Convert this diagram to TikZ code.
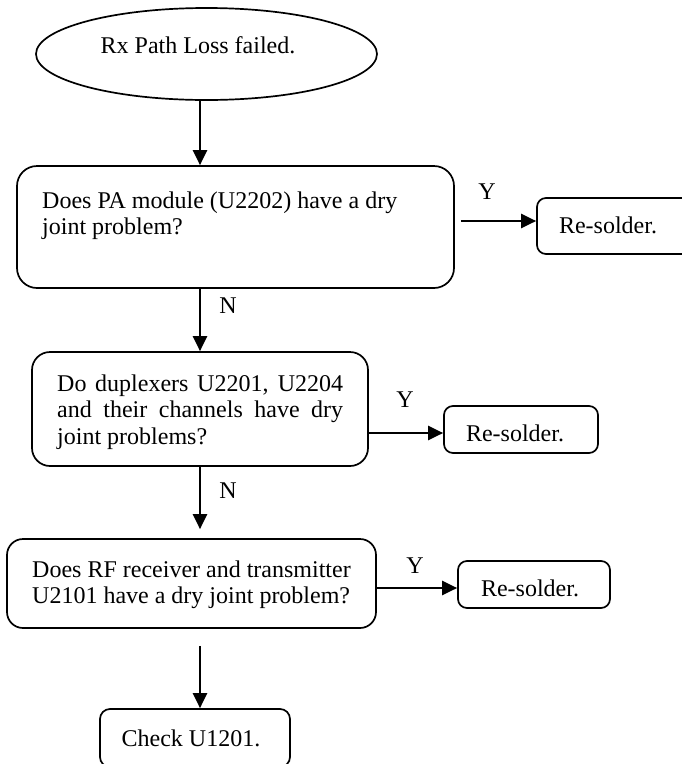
\documentclass[tikz,border=0pt]{standalone}
\usepackage{fontspec}
\setmainfont{Liberation Serif}
\usetikzlibrary{shapes.geometric,arrows.meta}

\tikzset{
  every node/.style={font=\fontsize{24}{26.5}\selectfont},
  box/.style={draw, line width=1.7pt, inner sep=0pt},
  txt/.style={inner sep=0pt, anchor=base west},
  ctxt/.style={inner sep=0pt, anchor=base},
  flow/.style={line width=2.2pt, -{Triangle[length=15pt,width=14pt]}},
}

\begin{document}
\begin{tikzpicture}[x=1pt,y=-1pt]
  \useasboundingbox (0,0) rectangle (682,764);

  % guide lines for the main column and the "yes" branches
  \coordinate (spine) at (200,0);
  \coordinate (y1) at (0,221);
  \coordinate (y2) at (0,433);
  \coordinate (y3) at (0,588);

  % start
  \node[box, ellipse, minimum width=341, minimum height=92] (start) at (206.5,54) {};
  \node[ctxt] (starttext) at (198,53) {Rx Path Loss failed.};

  % decisions
  \node[box, rounded corners=20pt, minimum width=437, minimum height=122] (q1) at (235.5,227) {};
  \node[txt] (q1text) at (42,208) {\parbox[t]{380pt}{\raggedright
    Does PA module (U2202) have a dry\\joint problem?}};

  \node[box, rounded corners=18pt, minimum width=336, minimum height=114] (q2) at (200,409) {};
  \node[txt] (q2text) at (57,391) {\parbox[t]{286pt}{\raggedright
    \makebox[286pt][s]{Do duplexers U2201, U2204}\\
    \makebox[286pt][s]{and their channels have dry}\\
    joint problems?}};

  \node[box, rounded corners=16pt, minimum width=369, minimum height=89] (q3) at (191.5,583.5) {};
  \node[txt] (q3text) at (32,577) {\parbox[t]{340pt}{\raggedright
    Does RF receiver and transmitter\\U2101 have a dry joint problem?}};

  % actions
  \node[box, rounded corners=9pt, minimum width=154, minimum height=56] (r1) at (614,226) {};
  \node[ctxt] (r1text) at (608,233) {Re-solder.};

  \node[box, rounded corners=9pt, minimum width=154, minimum height=47] (r2) at (521,429.5) {};
  \node[ctxt] (r2text) at (515,441) {Re-solder.};

  \node[box, rounded corners=9pt, minimum width=152, minimum height=47] (r3) at (534,584.5) {};
  \node[ctxt] (r3text) at (530,596) {Re-solder.};

  \node[box, rounded corners=10pt, minimum width=190, minimum height=58] (finish) at (195,738) {};
  \node[ctxt] (finishtext) at (191,746) {Check U1201.};

  % main column
  \draw[flow] (start.south -| spine) -- (q1.north -| spine);
  \draw[flow] (q1.south -| spine) -- (q2.north -| spine);
  \draw[flow, shorten >=9pt] (q2.south -| spine) -- (q3.north -| spine);
  \draw[flow, shorten <=17pt] (q3.south -| spine) -- (finish.north -| spine);

  % yes branches
  \draw[flow, shorten <=6pt] (q1.east |- y1) -- (r1.west |- y1);
  \draw[flow] (q2.east |- y2) -- (r2.west |- y2);
  \draw[flow] (q3.east |- y3) -- (r3.west |- y3);

  % branch labels
  \node[ctxt] (n1) at (228,313) {N};
  \node[ctxt] (n2) at (228,498) {N};
  \node[ctxt] (l1) at (487,199) {Y};
  \node[ctxt] (l2) at (405,407) {Y};
  \node[ctxt] (l3) at (415,573) {Y};
\end{tikzpicture}
\end{document}
